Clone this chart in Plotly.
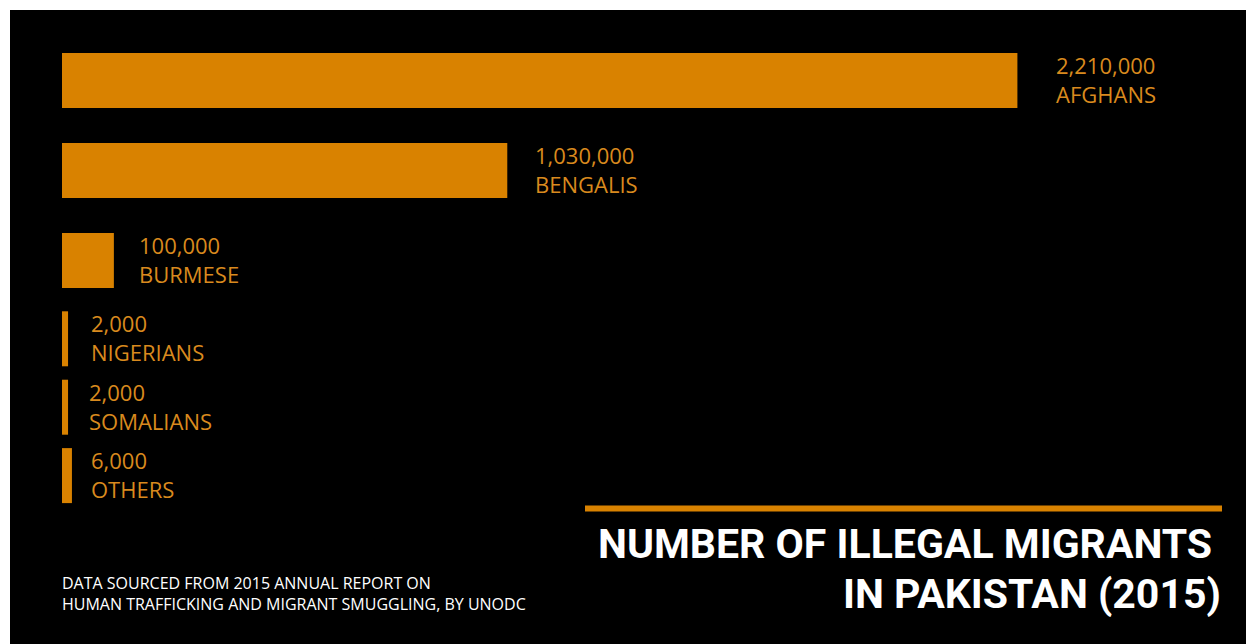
import plotly.graph_objects as go

# ---- data ----
groups = ["AFGHANS", "BENGALIS", "BURMESE", "NIGERIANS", "SOMALIANS", "OTHERS"]
migrants = [2210000, 1030000, 100000, 2000, 2000, 6000]
# drawn bar lengths as they appear in the graphic (small groups are exaggerated)
bar_lengths = [2210000, 1030000, 120000, 14000, 14000, 23000]

title_lines = ["NUMBER OF ILLEGAL MIGRANTS", "IN PAKISTAN (2015)"]
source_lines = ["DATA SOURCED FROM 2015 ANNUAL REPORT ON",
                "HUMAN TRAFFICKING AND MIGRANT SMUGGLING, BY UNODC"]

# ---- layout constants ----
W, H = 1246, 644
L, R, T, B = 62, 60, 26, 78
PW, PH = W - L - R, H - T - B
row_pos = [0, 1, 2, 2.87, 3.63, 4.39]
label_gap = [37, 26, 23, 21, 19, 17]
ORANGE = "#D98200"
LABEL = "#D98A1E"
TITLE_FONT = "Roboto"


def px(x):
    return (x - L) / PW


def py(y):
    return 1 - (y - T) / PH


fig = go.Figure()
fig.add_trace(go.Bar(
    x=bar_lengths, y=row_pos, orientation="h", width=0.611,
    marker=dict(color=ORANGE, line=dict(width=0)),
    customdata=migrants, text=groups,
    hovertemplate="%{text}: %{customdata:,}<extra></extra>",
    textposition="none",
))

ann = []
for g, m, xl, yp, gap in zip(groups, migrants, bar_lengths, row_pos, label_gap):
    ann.append(dict(
        x=xl, y=yp, xref="x", yref="y", xanchor="left", yanchor="middle",
        xshift=gap, yshift=1, align="left", showarrow=False,
        text=f"{m:,}<br>{g}",
        font=dict(family="Open Sans", size=22, color=LABEL),
    ))

ann.append(dict(x=px(1214), y=py(544), xref="paper", yref="paper",
                xanchor="right", yanchor="middle", showarrow=False,
                text=title_lines[0],
                font=dict(family=TITLE_FONT, size=41,
                          color="white", weight="bold")))
ann.append(dict(x=px(1223), y=py(594), xref="paper", yref="paper",
                xanchor="right", yanchor="middle", showarrow=False,
                text=title_lines[1],
                font=dict(family=TITLE_FONT, size=41,
                          color="white", weight="bold")))
ann.append(dict(x=px(60), y=py(593), xref="paper", yref="paper",
                xanchor="left", yanchor="middle", align="left", showarrow=False,
                text="<br>".join(source_lines),
                font=dict(family="Open Sans", size=16, color="white")))

shapes = [
    dict(type="rect", xref="paper", yref="paper", layer="below",
         x0=px(10), x1=px(W + 2), y0=py(10), y1=py(H + 2),
         fillcolor="black", line=dict(width=0)),
    dict(type="line", xref="paper", yref="paper",
         x0=px(585), x1=px(1222), y0=py(508.5), y1=py(508.5),
         line=dict(color=ORANGE, width=6)),
]

fig.update_layout(
    width=W, height=H,
    margin=dict(l=L, r=R, t=T, b=B, pad=0),
    paper_bgcolor="white", plot_bgcolor="rgba(0,0,0,0)",
    showlegend=False,
    xaxis=dict(range=[0, 2600000], visible=False, fixedrange=True),
    yaxis=dict(range=[5.3944, -0.6056], visible=False, fixedrange=True),
    annotations=ann, shapes=shapes,
)

fig.write_html("out.html")
